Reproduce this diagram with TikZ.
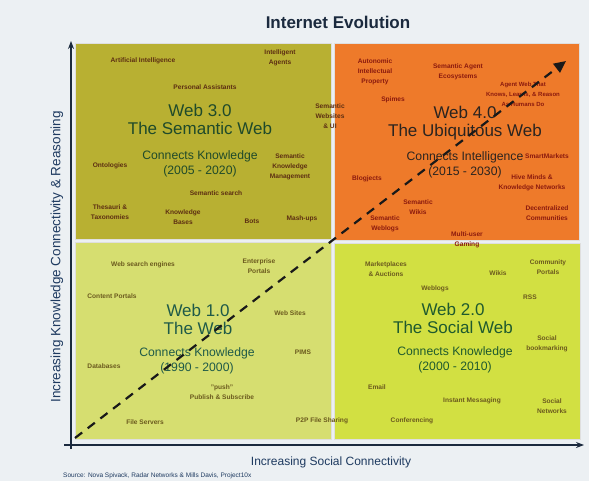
\documentclass[tikz,border=0pt]{standalone}
\usepackage{fontspec}
\setmainfont{Liberation Sans}
\usetikzlibrary{arrows.meta,positioning}

\definecolor{paper}{RGB}{236,240,243}
\definecolor{semfill}{RGB}{184,176,50}
\definecolor{ubifill}{RGB}{238,122,42}
\definecolor{webfill}{RGB}{214,222,112}
\definecolor{socfill}{RGB}{210,224,66}
\definecolor{navy}{RGB}{27,42,62}
\definecolor{axisblue}{RGB}{30,58,96}
\definecolor{semtext}{RGB}{31,74,42}
\definecolor{ubitext}{RGB}{42,36,32}
\definecolor{webtext}{RGB}{31,90,72}
\definecolor{soctext}{RGB}{31,90,46}
\definecolor{semitem}{RGB}{92,46,18}
\definecolor{ubiitem}{RGB}{139,26,14}
\definecolor{lowitem}{RGB}{107,90,30}

\begin{document}
\begin{tikzpicture}[x=1pt, y=-1pt, >=Stealth,
  quad/.style={draw=white!75!gray, line width=0.8pt},
  item/.style={align=center, inner sep=0pt, font=\fontsize{6.6}{10}\selectfont\bfseries},
  era/.style={align=center, inner sep=0pt, font=\fontsize{17}{18}\selectfont},
  reach/.style={align=center, inner sep=0pt, font=\fontsize{12.2}{15}\selectfont},
  axislabel/.style={inner sep=0pt, text=axisblue}]

  % page
  \fill[paper] (0,0) rectangle (589,481);
  \useasboundingbox (0,0) rectangle (589,481);

  \node[inner sep=0pt, text=navy, font=\fontsize{17}{17}\selectfont\bfseries] (title) at (338,22) {Internet Evolution};

  % quadrants
  \filldraw[quad, fill=semfill] (75,43) rectangle (331,239);
  \filldraw[quad, fill=ubifill] (334,43) rectangle (579,240);
  \filldraw[quad, fill=webfill] (75,242) rectangle (331,439);
  \filldraw[quad, fill=socfill] (334,243) rectangle (580,439);

  % Web 3.0
  \node[era, text=semtext] (web3) at (200,119) {Web 3.0\\The Semantic Web};
  \node[reach, text=semtext] (web3c) at (200,164) {Connects Knowledge\\(2005 - 2020)};
  \begin{scope}[every node/.append style={item, text=semitem}]
    \node (ai) at (143,61) {Artificial Intelligence};
    \node (agents) at (280,58) {Intelligent\\Agents};
    \node (assist) at (205,87) {Personal Assistants};
    \node (ontol) at (110,166) {Ontologies};
    \node (thesauri) at (110,212) {Thesauri \&\\Taxonomies};
    \node (kbases) at (183,217) {Knowledge\\Bases};
    \node (semsearch) at (216,193) {Semantic search};
    \node (skm) at (290,167) {Semantic\\Knowledge\\Management};
    \node (bots) at (252,221) {Bots};
    \node (mashups) at (302,219) {Mash-ups};
    \node (semsites) at (330,116) {Semantic\\Websites\\\& UI};
  \end{scope}

  % Web 4.0
  \node[era, text=ubitext] (web4) at (465,123) {Web 4.0\\The Ubiquitous Web};
  \node[reach, text=ubitext] (web4c) at (465,165) {Connects Intelligence\\(2015 - 2030)};
  \begin{scope}[every node/.append style={item, text=ubiitem}]
    \node (aip) at (375,72) {Autonomic\\Intellectual\\Property};
    \node (ecosys) at (458,72) {Semantic Agent\\Ecosystems};
    \node (spimes) at (393,100) {Spimes};
    \node[font=\fontsize{6}{10}\selectfont\bfseries] (humans) at (523,94) {Agent Web That\\Knows, Learns, \& Reason\\As Humans Do};
    \node (blogjects) at (367,179) {Blogjects};
    \node (swikis) at (418,207) {Semantic\\Wikis};
    \node (sweblogs) at (385,224) {Semantic\\Weblogs};
    \node (smart) at (547,156) {SmartMarkets};
    \node (hive) at (532,183) {Hive Minds \&\\Knowledge Networks};
    \node (decent) at (547,213) {Decentralized\\Communities};
    \node (gaming) at (467,240) {Multi-user\\Gaming};
  \end{scope}

  % Web 1.0
  \node[era, text=webtext] (web1) at (198,319) {Web 1.0\\The Web};
  \node[reach, text=webtext] (web1c) at (197,361) {Connects Knowledge\\(1990 - 2000)};
  \begin{scope}[every node/.append style={item, text=lowitem}]
    \node (engines) at (143,265) {Web search engines};
    \node (enterprise) at (259,266) {Enterprise\\Portals};
    \node (content) at (112,296) {Content Portals};
    \node (websites) at (290,313) {Web Sites};
    \node (pims) at (303,352) {PIMS};
    \node (databases) at (104,366) {Databases};
    \node (push) at (222,392) {"push"\\Publish \& Subscribe};
    \node (fileserv) at (145,422) {File Servers};
    \node (p2p) at (322,421) {P2P File Sharing};
  \end{scope}

  % Web 2.0
  \node[era, text=soctext] (web2) at (453,318) {Web 2.0\\The Social Web};
  \node[reach, text=soctext] (web2c) at (455,360) {Connects Knowledge\\(2000 - 2010)};
  \begin{scope}[every node/.append style={item, text=lowitem}]
    \node (market) at (386,269) {Marketplaces\\\& Auctions};
    \node (wikis) at (498,273) {Wikis};
    \node (community) at (548,267) {Community\\Portals};
    \node (weblogs) at (435,289) {Weblogs};
    \node (rss) at (530,297) {RSS};
    \node (bookmark) at (547,344) {Social\\bookmarking};
    \node (email) at (377,387) {Email};
    \node (im) at (472,401) {Instant Messaging};
    \node (networks) at (552,406) {Social\\Networks};
    \node (conf) at (412,421) {Conferencing};
  \end{scope}

  % axes
  \coordinate (origin) at (71,449);
  \coordinate (ytop) at (71,41);
  \coordinate (xleft) at (64,445);
  \coordinate (xend) at (584,445);
  \draw[->, navy, line width=1.3pt, >={Stealth[length=8pt,width=6pt]}] (origin) -- (ytop);
  \draw[->, navy, line width=1.3pt, >={Stealth[length=8pt,width=6pt]}] (xleft) -- (xend);
  \node[axislabel, rotate=90, font=\fontsize{13.5}{14}\selectfont] (ylabel) at (57,257) {Increasing Knowledge Connectivity \& Reasoning};
  \node[axislabel, font=\fontsize{12}{12}\selectfont] (xlabel) at (331,462) {Increasing Social Connectivity};

  % evolution path
  \coordinate (pathstart) at (75,438);
  \coordinate (pathtip) at (566,61);
  \draw[->, black!90, line width=2.2pt, dash pattern=on 9pt off 7pt,
    >={Triangle[length=12pt,width=11pt]}] (pathstart) -- (pathtip);

  \node[anchor=west, inner sep=0pt, text=axisblue, font=\fontsize{6.5}{7}\selectfont] (source) at (63,476) {Source: Nova Spivack, Radar Networks \& Mills Davis, Project10x};
\end{tikzpicture}
\end{document}
